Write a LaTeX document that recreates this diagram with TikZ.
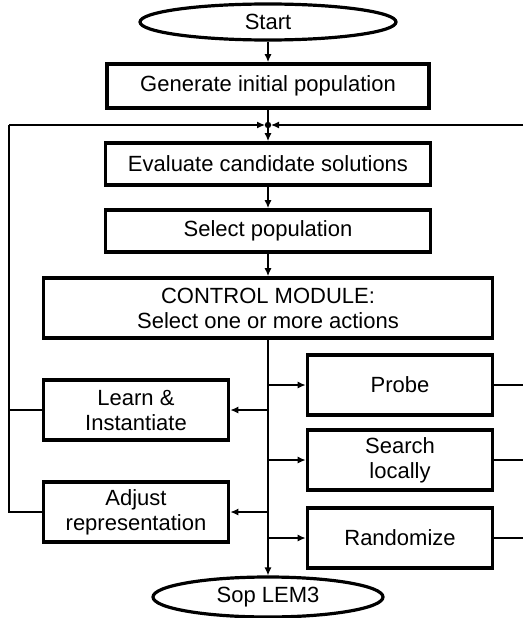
\documentclass[tikz,border=0pt]{standalone}
\usepackage{fontspec}
\setmainfont{Liberation Sans}
\usetikzlibrary{shapes.geometric,arrows.meta,calc}

\begin{document}
\begin{tikzpicture}[x=1pt,y=-1pt,>={Latex[length=8pt,width=7pt]},
	box/.style 2 args={draw,line width=3.8pt,minimum width=#1,minimum height=#2,inner sep=0pt,align=center,font=\fontsize{22}{25}\selectfont},
	oval/.style 2 args={draw,ellipse,line width=3.2pt,minimum width=#1,minimum height=#2,inner sep=0pt,font=\fontsize{22}{25}\selectfont},
	wire/.style={line width=1.2pt}]
	\useasboundingbox (0,0) rectangle (523,618);
	% main column
	\node[oval={256pt}{36pt}] (start) at (268,22) {Start};
	\node[box={322pt}{44pt}] (gen) at (268,86) {Generate initial population};
	\node[box={325pt}{42pt}] (eval) at (268,164) {Evaluate candidate solutions};
	\node[box={325pt}{42pt}] (selpop) at (268,231) {Select population};
	\node[box={449pt}{60pt}] (ctrl) at (268,308) {CONTROL MODULE:\\Select one or more actions};
	% actions
	\node[box={185pt}{60pt}] (probe) at (400,385) {Probe};
	\node[box={185pt}{60pt}] (search) at (400,460) {Search\\locally};
	\node[box={185pt}{60pt}] (rand) at (400,538) {Randomize};
	\node[box={185pt}{60pt}] (learn) at (136,410) {Learn \&\\Instantiate};
	\node[box={185pt}{60pt}] (adjust) at (136,512) {Adjust\\representation};
	\node[oval={230pt}{40pt}] (stop) at (268,597) {Sop LEM3};
	% loop back points
	\coordinate (J) at (268,125);
	\coordinate (lt) at (9,125);
	\coordinate (rt) at (523,125);

	\draw[wire,->] (start) -- (gen);
	\draw[wire,->] (gen) -- (eval);
	\draw[wire,->] (eval) -- (selpop);
	\draw[wire,->] (selpop) -- (ctrl);
	\draw[wire,->] (ctrl) -- (stop);
	\foreach \n in {probe,search,rand}{
		\draw[wire,->] (ctrl.south |- \n.west) -- (\n.west);
		\draw[wire] (\n.east) -- (\n.east -| rt);
	}
	\foreach \n in {learn,adjust}{
		\draw[wire,->] (ctrl.south |- \n.east) -- (\n.east);
		\draw[wire] (\n.west) -| (lt);
	}
	\draw[wire,->,shorten >=3pt] (lt) -- (J);
	\draw[wire,->,shorten >=3pt] (rt) -- (J);
	\fill (J) circle (3.2pt);
\end{tikzpicture}
\end{document}
